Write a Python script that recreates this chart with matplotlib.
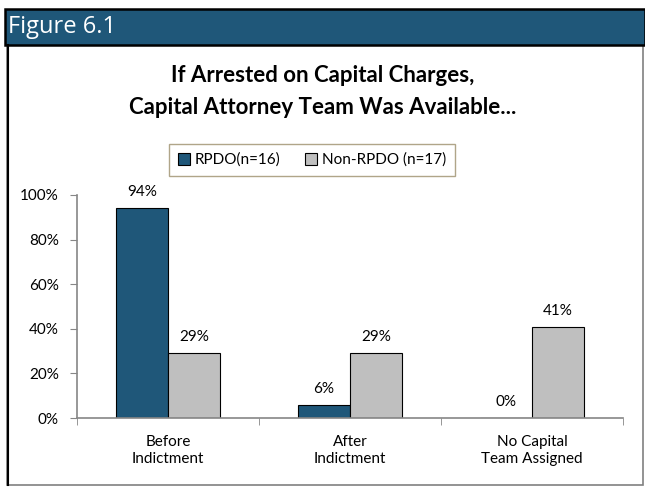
import numpy as np
import matplotlib
matplotlib.use("Agg")
import matplotlib.pyplot as plt
from matplotlib.patches import Rectangle
from matplotlib.ticker import PercentFormatter

# 数据
categories = ["Before\nIndictment", "After\nIndictment", "No Capital\nTeam Assigned"]
series_names = ["RPDO(n=16)", "Non-RPDO (n=17)"]
rpdo = [94, 6, 0]
non_rpdo = [29, 29, 41]
colors = ["#1f5779", "#bfbfbf"]

plt.rcParams["font.family"] = ["Lato", "DejaVu Sans"]

W, H = 645, 487
fig = plt.figure(figsize=(W / 100, H / 100), dpi=100)


def fx(px):
    return px / W


def fy(py):
    return 1 - py / H


# 外框与标题栏
fig.patches.append(Rectangle((fx(7), fy(485)), fx(643) - fx(7), fy(45) - fy(485),
                             transform=fig.transFigure, facecolor="white",
                             edgecolor="#808080", linewidth=1.2, zorder=0))
fig.add_artist(plt.Line2D([fx(7.5), fx(7.5)], [fy(45), fy(485)], color="black",
                          linewidth=1.5, transform=fig.transFigure))
fig.patches.append(Rectangle((fx(5), fy(45)), 1 - fx(5), fy(9) - fy(45),
                             transform=fig.transFigure, facecolor="#1f5779",
                             edgecolor="black", linewidth=1.8, zorder=1))
fig.text(fx(8), fy(27), "Figure 6.1", color="white", fontsize=17,
         family=["Open Sans", "DejaVu Sans"], ha="left", va="center")

fig.text(0.5, fy(76), "If Arrested on Capital Charges,", fontsize=16,
         fontweight="bold", ha="center", va="center")
fig.text(0.5, fy(108), "Capital Attorney Team Was Available...", fontsize=16,
         fontweight="bold", ha="center", va="center")

# 坐标轴
ax = fig.add_axes([fx(77), fy(418), fx(623) - fx(77), fy(195) - fy(418)])
ax.set_zorder(3)
x = np.arange(len(categories))
w = 0.286
b1 = ax.bar(x - w / 2, rpdo, w, color=colors[0], edgecolor="black",
            linewidth=0.8, label=series_names[0])
b2 = ax.bar(x + w / 2, non_rpdo, w, color=colors[1], edgecolor="black",
            linewidth=0.8, label=series_names[1])
for bars, vals in [(b1, rpdo), (b2, non_rpdo)]:
    for bar, v in zip(bars, vals):
        ax.text(bar.get_x() + bar.get_width() / 2, v + 4, f"{v}%",
                ha="center", va="bottom", fontsize=11)

ax.set_xlim(-0.5, 2.5)
ax.set_ylim(0, 100)
ax.set_yticks(np.arange(0, 101, 20))
ax.yaxis.set_major_formatter(PercentFormatter(decimals=0))
ax.set_xticks(x)
ax.set_xticklabels(categories, fontsize=11, linespacing=1.3)
ax.set_xticks([-0.5, 0.5, 1.5, 2.5], minor=True)
ax.tick_params(axis="x", which="major", length=0, pad=12)
ax.tick_params(axis="x", which="minor", length=5, color="#868686", direction="out")
ax.tick_params(axis="y", length=5, color="#868686", labelsize=11, pad=8)
for s in ["top", "right"]:
    ax.spines[s].set_visible(False)
for s in ["left", "bottom"]:
    ax.spines[s].set_color("#868686")
    ax.spines[s].set_linewidth(1.2)

leg = fig.legend(handles=[b1, b2], loc="center", ncol=2,
                 bbox_to_anchor=(fx(312), fy(160)), fontsize=11,
                 frameon=True, fancybox=False, handlelength=0.8,
                 handleheight=0.8, handletextpad=0.3, columnspacing=1.6,
                 borderpad=0.6)
leg.get_frame().set_edgecolor("#9c8f6c")
leg.get_frame().set_linewidth(1.0)
leg.set_zorder(4)

fig.savefig("out.png", dpi=100)
